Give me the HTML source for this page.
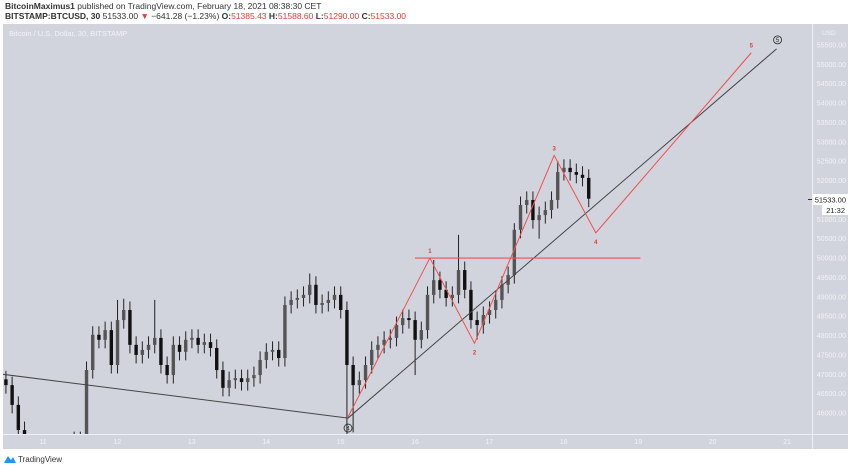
<!DOCTYPE html>
<html><head><meta charset="utf-8"><style>
body{margin:0;width:850px;height:469px;background:#fff;overflow:hidden;font-family:"Liberation Sans",sans-serif}
svg{display:block}
</style></head><body>
<svg width="850" height="469" viewBox="0 0 850 469">
<rect x="3" y="24" width="845" height="425" fill="#d1d4dc"/>
<line x1="812.5" y1="24" x2="812.5" y2="449" stroke="#eef0f4"/>
<line x1="3" y1="434.5" x2="848" y2="434.5" stroke="#eef0f4"/>
<text x="5" y="9" font-size="8.5" fill="#333"><tspan font-weight="bold">BitcoinMaximus1</tspan> published on TradingView.com, February 18, 2021 08:38:30 CET</text>
<text x="5" y="19" font-size="8.5" fill="#333"><tspan font-weight="bold">BITSTAMP:BTCUSD, 30</tspan> 51533.00 <tspan fill="#e53935">▼</tspan> −641.28 (−1.23%) <tspan font-weight="bold">O:</tspan><tspan fill="#e53935">51385.43</tspan> <tspan font-weight="bold">H:</tspan><tspan fill="#e53935">51588.60</tspan> <tspan font-weight="bold">L:</tspan><tspan fill="#e53935">51290.00</tspan> <tspan font-weight="bold">C:</tspan><tspan fill="#e53935">51533.00</tspan></text>
<text x="9" y="36" font-size="7.5" fill="#f2f3f6">Bitcoin / U.S. Dollar, 30, BITSTAMP</text>
<text x="822" y="35" font-size="6.5" fill="#f2f3f6">USD</text>
<g id="yaxis"></g><g id="xaxis"></g>
<clipPath id="pc"><rect x="3" y="24" width="809" height="410"/></clipPath>
<g id="candles" clip-path="url(#pc)"></g>
<g id="ann" clip-path="url(#pc)"></g>
<rect x="813" y="194" width="35" height="11" fill="#fff"/>
<line x1="808" y1="199.5" x2="812" y2="199.5" stroke="#333"/>
<text x="846" y="202.5" font-size="7.5" fill="#222" text-anchor="end">51533.00</text>
<rect x="822" y="205" width="26" height="10" fill="#fff"/>
<text x="845" y="213" font-size="7.5" fill="#222" text-anchor="end">21:32</text>
<g><path d="M4 463 L8 456 L11 460 L13 457 L16 463 Z" fill="#2196f3"/><text x="18" y="462" font-size="8" fill="#333">TradingView</text></g>
</svg>
<script>
const dayTicks=[11,12,13,14,15,16,17,18,19,20,21];
const priceTicks=[46000,46500,47000,47500,48000,48500,49000,49500,50000,50500,51000,52000,52500,53000,53500,54000,54500,55000,55500];
const closes=[46720,46210,45560,45180,45050,45000,45100,45150,45050,45180,45100,45300,45300,47110,48020,47890,48140,47240,48400,48660,47760,47500,47630,47760,47940,47240,46980,47760,47580,47890,47940,47760,47830,47680,47110,46650,46850,46900,46800,46900,46980,47370,47580,47630,47420,48790,48920,48970,49050,49310,48790,48840,48920,49050,48660,47240,46720,46850,47240,47630,47760,47890,47940,48270,48450,48400,47890,48140,49050,49430,49180,48970,49050,49690,49180,48400,48270,48530,48660,48920,49310,49560,50730,51370,51500,50980,51110,51240,51500,52220,52330,52220,52150,52070,51533];
const spikeHigh={18:48920,19:48950,24:48920,49:49600,69:49950,73:50600,82:50900,89:52500};
const spikeLow={55:45260,56:45500,66:46980,76:47900,86:50500};
const waveX=[15.1,16.2,16.8,17.87,18.43,20.52];
const waveY=[45900,50000,47800,52650,50650,55300];
const waveLbl=["","1","2","3","4","5"];
const trendX=[10.46,15.1,20.86];const trendY=[47000,45870,55400];
const hLineY=50000;const hLineX=[16.0,19.03];
const startDay=10.46, step=1/12;
const NS="http://www.w3.org/2000/svg";
const X=d=>43+(d-11)*74.4;
const Y=p=>45+(55500-p)/500*19.37;
function mk(t,a,p){const e=document.createElementNS(NS,t);for(const k in a)e.setAttribute(k,a[k]);p.appendChild(e);return e;}
const ya=document.getElementById('yaxis'),xa=document.getElementById('xaxis');
priceTicks.forEach(p=>{const t=mk('text',{x:846,y:Y(p)+2.5,'font-size':7,fill:'#f2f3f6','text-anchor':'end'},ya);t.textContent=p.toFixed(2);

});
dayTicks.forEach(d=>{const t=mk('text',{x:X(d),y:444,'font-size':7,fill:'#f2f3f6','text-anchor':'middle'},xa);t.textContent=d;

});
const cg=document.getElementById('candles');
closes.forEach((c,i)=>{const o=i?closes[i-1]:c+150;const x=X(startDay+(i+0.5)*step);
const hi=spikeHigh[i]||Math.max(o,c)+220, lo=spikeLow[i]||Math.min(o,c)-220;
const w=mk('line',{x1:x,x2:x,y1:Y(hi),y2:Y(lo),stroke:'#222','stroke-width':1},cg);


const top=Y(Math.max(o,c)),h=Math.max(1,Math.abs(Y(o)-Y(c)));
const b=mk('rect',{x:x-1.7,y:top,width:3.4,height:h,fill:c>=o?'#555':'#111'},cg);

});
const ag=document.getElementById('ann');
const tl=mk('polyline',{points:trendX.map((d,i)=>X(d)+','+Y(trendY[i])).join(' '),fill:'none',stroke:'#444','stroke-width':1},ag);


const hl=mk('line',{x1:X(hLineX[0]),x2:X(hLineX[1]),y1:Y(hLineY),y2:Y(hLineY),stroke:'#f05050','stroke-width':1.2},ag);


const wz=mk('polyline',{points:waveX.map((d,i)=>X(d)+','+Y(waveY[i])).join(' '),fill:'none',stroke:'#f05050','stroke-width':1},ag);


waveLbl.forEach((l,i)=>{if(!l)return;const up=(i%2==1);
const t=mk('text',{x:X(waveX[i]),y:Y(waveY[i])+(up?-5:11),'font-size':6,fill:'#e53935','text-anchor':'middle','font-weight':'bold'},ag);t.textContent=l;

});
[[trendX[1],trendY[1],'4',10],[trendX[2],trendY[2],'5',-9]].forEach(([d,p,l,dy])=>{const cx=X(d)+(l=='5'?1:0),cy=Y(p)+dy;
const c=mk('circle',{cx:cx,cy:cy,r:4,fill:'none',stroke:'#222','stroke-width':0.8},ag);


const t=mk('text',{x:cx,y:cy+2.3,'font-size':6,fill:'#222','text-anchor':'middle'},ag);t.textContent=l;

});
</script>
</body></html>
